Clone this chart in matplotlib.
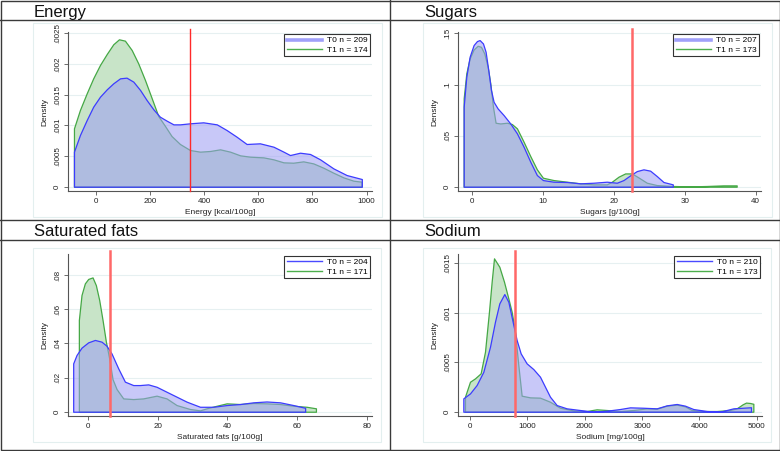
import matplotlib
matplotlib.use("Agg")
import matplotlib.pyplot as plt
from matplotlib.lines import Line2D
from matplotlib.patches import Rectangle

plt.rcParams['font.family'] = ['Liberation Sans', 'DejaVu Sans']

# ---------------- data ----------------
# Energy
energy_t0_x = [-80, -58, -33, -9, 16, 41, 65, 90, 114, 139, 164, 188, 213, 237, 262, 287, 311, 348,
               397, 447, 483, 520, 557, 606, 656, 693, 717, 754, 791, 828, 877, 926, 982]
energy_t0_y = [0.000571, 0.000842, 0.001087, 0.001304, 0.001467, 0.001587, 0.001685, 0.001766, 0.001777,
               0.001712, 0.001576, 0.001413, 0.001261, 0.001141, 0.001076, 0.001016, 0.001016, 0.001033,
               0.001049, 0.001016, 0.000924, 0.000815, 0.000696, 0.000707, 0.000652, 0.000571, 0.000516,
               0.000554, 0.000533, 0.000446, 0.000299, 0.000190, 0.000125]
energy_t1_x = [-80, -58, -33, -9, 16, 41, 65, 86, 108, 133, 157, 182, 207, 231, 256, 280, 311, 348, 385,
               422, 459, 496, 533, 570, 619, 656, 693, 729, 766, 803, 840, 877, 914, 951, 981]
energy_t1_y = [0.000951, 0.00125, 0.001522, 0.001766, 0.001984, 0.002163, 0.002321, 0.002402, 0.00238,
               0.002228, 0.002011, 0.001739, 0.00144, 0.001152, 0.000989, 0.000826, 0.000696, 0.000598,
               0.000571, 0.000582, 0.000609, 0.000571, 0.000511, 0.000489, 0.000478, 0.000446, 0.000397,
               0.000391, 0.000413, 0.00038, 0.00031, 0.000228, 0.000152, 0.000098, 0.000082]

# Sugars
sugars_t0_x = [-1.17, -0.80, -0.33, 0.23, 0.70, 1.08, 1.55, 1.92, 2.30, 2.68, 3.05, 3.62, 4.46, 5.40, 6.34,
               7.28, 8.22, 9.15, 10.0, 11.5, 13.38, 15.26, 17.14, 19.01, 20.42, 21.36, 22.3, 23.24, 24.18,
               25.12, 26.06, 27.0, 28.31]
sugars_t0_y = [0.0783, 0.1076, 0.1272, 0.1386, 0.1425, 0.1435, 0.1402, 0.1321, 0.1141, 0.0946, 0.0831,
               0.0766, 0.0701, 0.0619, 0.0522, 0.0391, 0.0245, 0.0114, 0.0065, 0.0049, 0.0046, 0.0033,
               0.0039, 0.0049, 0.0039, 0.0065, 0.0111, 0.0153, 0.0170, 0.0157, 0.0104, 0.0046, 0.0023]
sugars_t1_x = [-1.17, -0.8, -0.33, 0.23, 0.8, 1.27, 1.74, 2.21, 2.58, 2.96, 3.33, 3.99, 4.93, 5.63, 6.34,
               7.28, 8.22, 9.15, 10.0, 11.5, 13.38, 15.26, 17.14, 19.01, 19.72, 20.66, 21.6, 22.54, 23.47,
               24.65, 26.06, 28.4, 30.75, 33.1, 35.45, 37.32]
sugars_t1_y = [0.0864, 0.1109, 0.1255, 0.1343, 0.1379, 0.1369, 0.1304, 0.1174, 0.1011, 0.0783, 0.0626,
               0.0619, 0.0626, 0.0613, 0.0571, 0.044, 0.030, 0.017, 0.0088, 0.0065, 0.0049, 0.0033, 0.0023,
               0.0023, 0.0049, 0.0098, 0.013, 0.013, 0.0091, 0.0039, 0.0016, 0.0007, 0.0003, 0.0007,
               0.0013, 0.0013]

# Saturated fats
satfat_t0_x = [-4.31, -3.35, -1.92, 0, 1.92, 3.83, 5.27, 6.7, 8.62, 10.54, 12.93, 14.85, 17.24, 19.64,
               22.5, 25.38, 28.26, 32.1, 35.9, 39.75, 43.6, 47.4, 51.2, 55.1, 58.9, 62.3]
satfat_t0_y = [0.0283, 0.0332, 0.0375, 0.0406, 0.042, 0.041, 0.0386, 0.0341, 0.0254, 0.0176, 0.0156,
               0.0156, 0.016, 0.0146, 0.0117, 0.0088, 0.0059, 0.0029, 0.0029, 0.0039, 0.0045, 0.0055,
               0.006, 0.0055, 0.0039, 0.0023]
satfat_t1_x = [-2.68, -1.92, -0.96, 0, 1.25, 2.2, 3.16, 4.12, 5.08, 6.03, 6.99, 8.14, 10.06, 12.93, 15.8,
               19.64, 22.5, 25.38, 29.2, 32.1, 34.0, 36.9, 39.75, 43.6, 47.4, 51.2, 55.1, 58.9, 62.7, 65.4]
satfat_t1_y = [0.0537, 0.0683, 0.0751, 0.0777, 0.0786, 0.0741, 0.0654, 0.0537, 0.041, 0.0312, 0.0191,
               0.0133, 0.0078, 0.0074, 0.0078, 0.0094, 0.0078, 0.0039, 0.0016, 0.0008, 0.002, 0.0035,
               0.0049, 0.0045, 0.0051, 0.0049, 0.0045, 0.0035, 0.0029, 0.002]

# Sodium
sodium_t0_x = [-116, 0, 116, 233, 349, 436, 512, 599, 669, 744, 814, 884, 988, 1105, 1221, 1308, 1395,
               1512, 1686, 1919, 2151, 2384, 2616, 2791, 3023, 3256, 3430, 3605, 3750, 3895, 4128, 4360,
               4593, 4901]
sodium_t0_y = [0.000135, 0.000185, 0.00027, 0.000404, 0.000657, 0.00091, 0.001096, 0.00119, 0.001112,
               0.00091, 0.000725, 0.00059, 0.000489, 0.000431, 0.000354, 0.000253, 0.000152, 0.000067,
               0.000034, 0.000017, 0.0, 0.00001, 0.000027, 0.000044, 0.00004, 0.000034, 0.000064,
               0.000078, 0.000061, 0.000027, 0.000007, 0.0, 0.000034, 0.000045]
sodium_t1_x = [-87, 0, 87, 186, 262, 331, 378, 419, 512, 593, 669, 727, 785, 843, 901, 1047, 1221, 1395,
               1570, 1802, 2035, 2209, 2384, 2616, 2849, 3081, 3256, 3430, 3605, 3750, 3866, 4070, 4302,
               4535, 4651, 4756, 4814, 4884, 4942]
sodium_t1_y = [0.000152, 0.000303, 0.000337, 0.000388, 0.000607, 0.001011, 0.001315, 0.001551, 0.001466,
               0.001315, 0.001146, 0.001011, 0.000809, 0.000472, 0.000162, 0.000145, 0.000142, 0.000101,
               0.00004, 0.000013, 0.000007, 0.000024, 0.000017, 0.000007, 0.000017, 0.000034, 0.00003,
               0.000061, 0.000071, 0.000054, 0.000017, 0.000007, 0.000007, 0.000017, 0.000034, 0.000075,
               0.000092, 0.000088, 0.00008]

titles = ["Energy", "Sugars", "Saturated fats", "Sodium"]
xlabels = ["Energy [kcal/100g]", "Sugars [g/100g]", "Saturated fats [g/100g]", "Sodium [mg/100g]"]
thresholds = [348, 22.5, 6.2, 791]
n_t0 = [209, 207, 204, 210]
n_t1 = [174, 173, 171, 173]
xticks = [[0, 200, 400, 600, 800, 1000], [0, 10, 20, 30, 40], [0, 20, 40, 60, 80],
          [0, 1000, 2000, 3000, 4000, 5000]]
yticks = [[0, 0.0005, 0.001, 0.0015, 0.002, 0.0025], [0, 0.05, 0.1, 0.15],
          [0, 0.02, 0.04, 0.06, 0.08], [0, 0.0005, 0.001, 0.0015]]
yticklabels = [["0", ".0005", ".001", ".0015", ".002", ".0025"], ["0", ".05", ".1", ".15"],
               ["0", ".02", ".04", ".06", ".08"], ["0", ".0005", ".001", ".0015"]]
xlims = [(-102, 1019.6), (-1.97, 40.75), (-5.8, 81.5), (-209, 5093)]
ylims = [(-0.00007, 0.002521), (-0.0042, 0.1514), (-0.0025, 0.0923), (-0.0000435, 0.001595)]

series = [(energy_t0_x, energy_t0_y, energy_t1_x, energy_t1_y),
          (sugars_t0_x, sugars_t0_y, sugars_t1_x, sugars_t1_y),
          (satfat_t0_x, satfat_t0_y, satfat_t1_x, satfat_t1_y),
          (sodium_t0_x, sodium_t0_y, sodium_t1_x, sodium_t1_y)]

# ---------------- layout ----------------
W, H = 780, 451
fig = plt.figure(figsize=(W / 100, H / 100), dpi=100)

def fx(px):
    return px / W

def fy(py):
    return 1 - py / H

axes_px = [(68, 32, 372, 191), (458, 32, 761, 191), (68, 254, 372, 416), (458, 254, 762, 416)]
region_px = [(33, 23, 382, 217), (423, 23, 772, 217), (33, 248, 381, 442), (423, 248, 771, 442)]
title_px = [(34, 16.8), (424, 16.8), (34, 236.5), (424, 236.5)]

frame_col = '#3a3a3a'
# panel frames
fig.add_artist(Rectangle((fx(0.5), fy(450)), fx(779), 449 / H, transform=fig.transFigure,
                         fill=False, edgecolor=frame_col, lw=1.0))
for yy in (20, 220, 240):
    fig.add_artist(Line2D([0, 1], [fy(yy), fy(yy)], transform=fig.transFigure, color=frame_col, lw=1.0))
fig.add_artist(Line2D([fx(390), fx(390)], [0, 1], transform=fig.transFigure, color=frame_col, lw=1.0))
for (x0, y0, x1, y1) in region_px:
    fig.add_artist(Rectangle((fx(x0), fy(y1)), fx(x1 - x0), (y1 - y0) / H, transform=fig.transFigure,
                             fill=False, edgecolor='#e3efef', lw=0.8))

blue_edge = '#3c3cff'
blue_fill = (157 / 255, 157 / 255, 243 / 255, 0.56)
green_edge = '#45a845'
green_fill = '#c8e4c8'

for i in range(4):
    x0, y0, x1, y1 = axes_px[i]
    ax = fig.add_axes([fx(x0), fy(y1), fx(x1 - x0), (y1 - y0) / H])
    t0x, t0y, t1x, t1y = series[i]
    ax.fill_between(t1x, 0, t1y, facecolor=green_fill, edgecolor=green_edge, lw=0.9, zorder=2)
    ax.fill_between(t0x, 0, t0y, facecolor=blue_fill, edgecolor=blue_edge, lw=0.9, zorder=3)
    if i == 0:
        ax.axvline(thresholds[i], ymin=0, ymax=1.02, color='#ff2a2a', lw=1.0, zorder=4, clip_on=False)
    else:
        ax.axvline(thresholds[i], ymin=0, ymax=1.02, color='#ff6868', lw=1.8, zorder=4, clip_on=False)
    ax.set_xlim(*xlims[i])
    ax.set_ylim(*ylims[i])
    ax.set_xticks(xticks[i])
    ax.set_xticklabels([str(v) for v in xticks[i]])
    ax.set_yticks(yticks[i])
    ax.set_yticklabels(yticklabels[i], rotation=90, va='center')
    ax.grid(axis='y', color='#e6f0f1', lw=0.8, zorder=0)
    ax.set_axisbelow(True)
    for s in ('top', 'right'):
        ax.spines[s].set_visible(False)
    for s in ('left', 'bottom'):
        ax.spines[s].set_color('#555555')
        ax.spines[s].set_linewidth(0.8)
    ax.tick_params(direction='out', length=3, width=0.6, color='#555555', labelsize=5.8,
                   labelcolor='#222222', pad=2)
    ax.set_xlabel(xlabels[i], fontsize=6, color='#222222', labelpad=3)
    ax.set_ylabel("Density", fontsize=6, color='#222222', labelpad=4)
    ax.set_facecolor('none')
    if i < 2:
        h0 = Line2D([], [], color='#a0a0fa', lw=2.6)
    else:
        h0 = Line2D([], [], color='#4a4aff', lw=1.0)
    h1 = Line2D([], [], color='#4cae4c', lw=1.0)
    leg = ax.legend([h0, h1], [f"T0 n = {n_t0[i]}", f"T1 n = {n_t1[i]}"], loc='upper right',
                    fontsize=6, handlelength=4.2, handletextpad=0.6, borderpad=0.35,
                    labelspacing=0.15, borderaxespad=0.2, fancybox=False, framealpha=1)
    leg.get_frame().set_edgecolor('#333333')
    leg.get_frame().set_linewidth(0.8)
    tx, ty = title_px[i]
    fig.text(fx(tx), fy(ty), titles[i], fontsize=12, va='baseline', ha='left', color='#111111')

fig.savefig("out.png", dpi=100)
